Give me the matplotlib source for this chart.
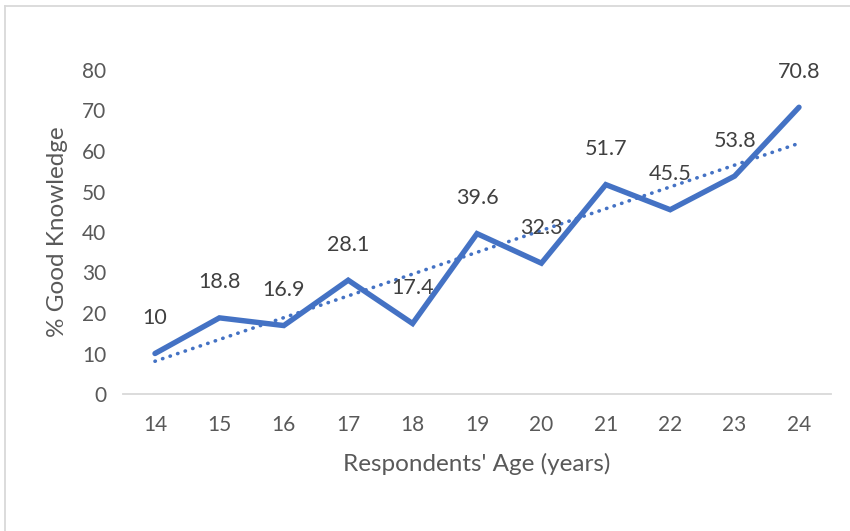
import numpy as np
import matplotlib
matplotlib.use("Agg")
import matplotlib.pyplot as plt
from matplotlib.lines import Line2D

ages = ["14", "15", "16", "17", "18", "19", "20", "21", "22", "23", "24"]
good_knowledge = [10, 18.8, 16.9, 28.1, 17.4, 39.6, 32.3, 51.7, 45.5, 53.8, 70.8]
y_ticks = [0, 10, 20, 30, 40, 50, 60, 70, 80]

plt.rcParams["font.family"] = ["Lato", "DejaVu Sans"]

W, H = 850, 531
fig = plt.figure(figsize=(W / 100, H / 100), dpi=100)
ax = fig.add_axes([122.8 / W, 1 - 394 / H, (831.2 - 122.8) / W, (394 - 70) / H])

x = np.arange(len(ages))
blue = "#4472C4"
text_col = "#595959"

# Linear trendline through the series
slope, intercept = np.polyfit(x, good_knowledge, 1)
trend = slope * x + intercept
ax.plot(x, trend, color=blue, lw=2.6, linestyle=(0, (0.1, 2.1)),
        dash_capstyle="round", zorder=2)

ax.plot(x, good_knowledge, color=blue, lw=3.9, solid_capstyle="round",
        solid_joinstyle="miter", zorder=3)

for xi, v in zip(x, good_knowledge):
    ax.annotate(f"{v:g}", (xi, v), xytext=(0, 25.5), textcoords="offset points",
                ha="center", va="center", fontsize=15.5, color="#404040", zorder=4)

ax.set_xlim(-0.5, len(ages) - 0.5)
ax.set_ylim(0, 80)
ax.set_xticks(x)
ax.set_xticklabels(ages)
ax.set_yticks(y_ticks)

for s in ["top", "right", "left"]:
    ax.spines[s].set_visible(False)
ax.spines["bottom"].set_color("#D9D9D9")
ax.spines["bottom"].set_linewidth(1.3)

ax.tick_params(axis="both", length=0, labelsize=15, colors=text_col)
ax.tick_params(axis="x", pad=15)
ax.tick_params(axis="y", pad=12)

ax.set_xlabel("Respondents' Age (years)", fontsize=17.5, color=text_col, labelpad=13)
ax.set_ylabel("% Good Knowledge", fontsize=17.5, color=text_col, labelpad=10)

# Chart area outline (top and left edges)
fig.add_artist(Line2D([5 / W, 5 / W], [0, 1 - 6 / H], transform=fig.transFigure,
                      color="#D9D9D9", lw=1.3))
fig.add_artist(Line2D([5 / W, 1], [1 - 6 / H, 1 - 6 / H], transform=fig.transFigure,
                      color="#D9D9D9", lw=1.3))

fig.savefig("out.png", dpi=100, facecolor="white")
